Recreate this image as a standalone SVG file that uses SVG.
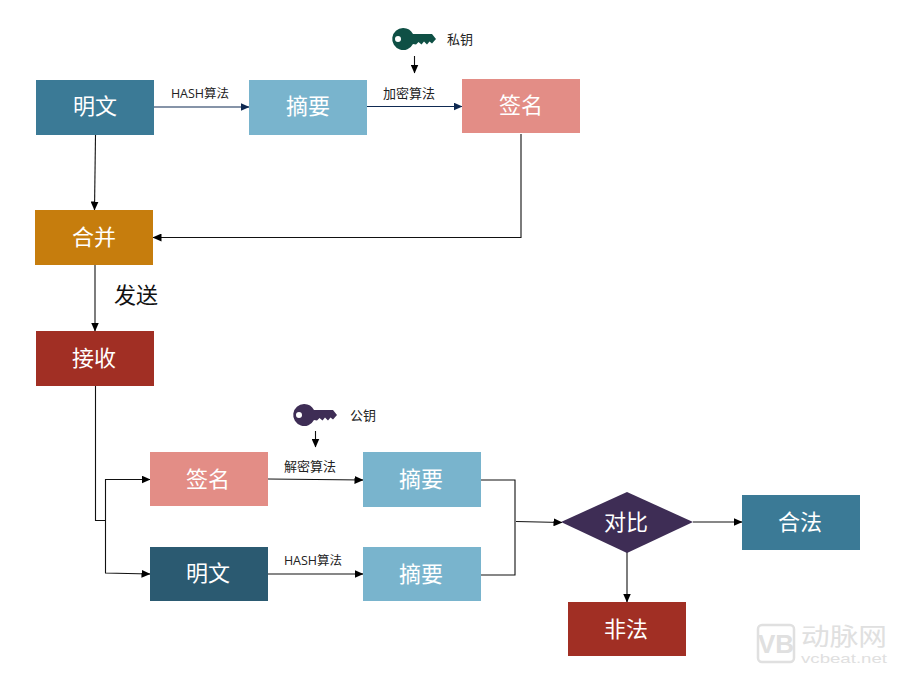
<svg xmlns="http://www.w3.org/2000/svg" width="902" height="677" viewBox="0 0 902 677">
<style>
.n{font-family:"Noto Sans CJK SC","Microsoft YaHei",sans-serif;font-size:22px;font-weight:400;fill:#fff;text-anchor:middle}
.l{font-family:"Noto Sans CJK SC",sans-serif;font-size:13px;font-weight:400;fill:#222;text-anchor:middle}
.h{font-family:"Open Sans","Noto Sans CJK SC",sans-serif;font-size:12.500px;fill:#222;text-anchor:middle}
.c{fill:none;stroke:#111;stroke-width:1.1}
.d{fill:none;stroke:#0f2a52;stroke-width:1.1}
.wm{font-family:"Liberation Sans",sans-serif;fill:#e0e0e0}
</style>
<defs>
<marker id="a" markerUnits="userSpaceOnUse" markerWidth="9" markerHeight="8" refX="8.5" refY="4" orient="auto"><path d="M0 0L9 4L0 8Z" fill="#000"/></marker>
<marker id="b" markerUnits="userSpaceOnUse" markerWidth="9" markerHeight="8" refX="8.5" refY="4" orient="auto"><path d="M0 0L9 4L0 8Z" fill="#0f2a52"/></marker>
<path id="key" d="M0-11A11 11 0 0 1 10-5H29L33 0L29 4.500L26.500 2.500L24 5.500L21 2.500L18.500 5.500L15.500 3L13 5.500L10 5A11 11 0 1 1 0-11ZM-5-3A3 3 0 1 0-4.990 3A3 3 0 1 0-5-3Z" fill-rule="evenodd"/>
</defs>
<rect width="902" height="677" fill="#fff"/>
<g id="connectors">
<path class="d" d="M154 107H249" marker-end="url(#b)"/>
<path class="d" d="M367 106.500H462" marker-end="url(#b)"/>
<path class="c" d="M95.500 135L94.500 210" marker-end="url(#a)"/>
<path class="c" d="M521 134V237.500H153" marker-end="url(#a)"/>
<path class="c" d="M95 265V331" marker-end="url(#a)"/>
<path class="c" d="M95.500 386V520.500H105"/>
<path class="c" d="M150 479.500H105.500V573L150 574" marker-end="url(#a)"/>
<path class="c" d="M105.500 479.500H150" marker-end="url(#a)"/>
<path class="c" d="M268 479L363 480" marker-end="url(#a)"/>
<path class="c" d="M268 574H363" marker-end="url(#a)"/>
<path class="c" d="M481 480H515V575L481 575"/>
<path class="c" d="M516 521.500L562 522.500" marker-end="url(#a)"/>
<path class="c" d="M693 522H742" marker-end="url(#a)"/>
<path class="c" d="M627 552V602" marker-end="url(#a)"/>
<path class="c" d="M414.500 56V73" marker-end="url(#a)"/>
<path class="c" d="M315.500 431V447" marker-end="url(#a)"/>
</g>
<g id="n1"><rect x="36" y="80" width="118" height="55" fill="#3b7a96"/><text class="n" x="95" y="114">明文</text></g>
<g id="n2"><rect x="249" y="80" width="118" height="55" fill="#79b4cd"/><text class="n" x="308" y="114">摘要</text></g>
<g id="n3"><rect x="462" y="79" width="118" height="54" fill="#e38d86"/><text class="n" x="521" y="113">签名</text></g>
<g id="n4"><rect x="35" y="210" width="118" height="55" fill="#c67d0d"/><text class="n" x="94" y="245">合并</text></g>
<g id="n5"><rect x="36" y="331" width="118" height="55" fill="#a12f24"/><text class="n" x="94" y="366">接收</text></g>
<g id="n6"><rect x="150" y="452" width="118" height="54" fill="#e38d86"/><text class="n" x="208" y="487">签名</text></g>
<g id="n7"><rect x="363" y="452" width="118" height="55" fill="#79b4cd"/><text class="n" x="421" y="487">摘要</text></g>
<g id="n8"><rect x="150" y="547" width="118" height="54" fill="#2b5a71"/><text class="n" x="208" y="581">明文</text></g>
<g id="n9"><rect x="363" y="547" width="118" height="54" fill="#79b4cd"/><text class="n" x="421" y="582">摘要</text></g>
<g id="n10"><path d="M627 492L693 522L627 553L561 522Z" fill="#3e2d55"/><text class="n" x="626" y="530">对比</text></g>
<g id="n11"><rect x="742" y="495" width="118" height="55" fill="#3b7a96"/><text class="n" x="800" y="530">合法</text></g>
<g id="n12"><rect x="568" y="602" width="118" height="54" fill="#a12f24"/><text class="n" x="626" y="637">非法</text></g>
<g id="key1"><use href="#key" x="403" y="39" fill="#0f5045"/><text class="l" x="460" y="44">私钥</text></g>
<g id="key2"><use href="#key" x="304" y="415" fill="#3e2d55"/><text class="l" x="363" y="420">公钥</text></g>
<g id="labels">
<text class="h" x="200" y="98">HASH算法</text>
<text class="l" x="409" y="98">加密算法</text>
<text class="l" x="310" y="471">解密算法</text>
<text class="h" x="313" y="565">HASH算法</text>
<text font-family="Noto Sans CJK SC,sans-serif" font-size="22" fill="#111" x="114" y="303">发送</text>
</g>
<g id="watermark">
<rect x="758" y="625" width="36" height="37" rx="4" fill="none" stroke="#e0e0e0" stroke-width="2.500"/>
<text class="wm" x="776" y="653" font-size="26" font-weight="700" text-anchor="middle">VB</text>
<text x="801" y="645" font-family="Noto Sans CJK SC,sans-serif" font-size="24" fill="#e0e0e0" textLength="86" lengthAdjust="spacingAndGlyphs">动脉网</text>
<text class="wm" x="801" y="663" font-size="13" textLength="86" lengthAdjust="spacingAndGlyphs">vcbeat.net</text>
</g>
</svg>
